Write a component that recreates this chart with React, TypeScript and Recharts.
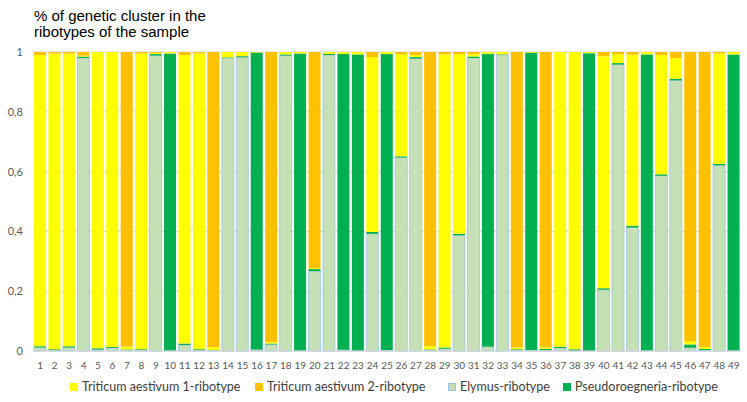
import { Bar, BarChart, CartesianGrid, XAxis, YAxis } from 'recharts'

// Sample ribotypes 1..49
const SAMPLES = Array.from({ length: 49 }, (_, i) => String(i + 1))

// Share of each genetic cluster per ribotype (bottom to top of the stack)
const ELYMUS = [
  0.012, 0.003, 0.012, 0.98, 0.005, 0.01, 0.003, 0.003, 0.988, 0.002,
  0.02, 0.003, 0.002, 0.98, 0.982, 0.005, 0.022, 0.988, 0.002, 0.267,
  0.99, 0.004, 0.002, 0.392, 0.003, 0.647, 0.978, 0.003, 0.008, 0.387,
  0.98, 0.014, 0.99, 0.003, 0.003, 0.003, 0.01, 0.002, 0.001, 0.205,
  0.958, 0.413, 0.002, 0.586, 0.905, 0.011, 0.003, 0.621, 0.002,
]
const PSEUDOROEGNERIA = [
  0.004, 0.003, 0.004, 0.005, 0.004, 0.003, 0.002, 0.003, 0.005, 0.993,
  0.005, 0.003, 0.001, 0.002, 0.004, 0.993, 0.003, 0.004, 0.993, 0.007,
  0.004, 0.99, 0.99, 0.006, 0.99, 0.004, 0.005, 0.002, 0.004, 0.005,
  0.005, 0.98, 0.002, 0.003, 0.995, 0.004, 0.004, 0.004, 0.995, 0.005,
  0.005, 0.006, 0.99, 0.005, 0.006, 0.011, 0.004, 0.005, 0.99,
]
const TRITICUM_1 = [
  0.974, 0.989, 0.979, 0.003, 0.991, 0.987, 0.01, 0.989, 0.004, 0.005,
  0.965, 0.99, 0.01, 0.018, 0.014, 0.002, 0.005, 0.008, 0.005, 0.003,
  0.006, 0.006, 0.008, 0.585, 0.007, 0.342, 0.007, 0.012, 0.98, 0.601,
  0.008, 0.006, 0.008, 0.006, 0.002, 0.005, 0.986, 0.994, 0.004, 0.776,
  0.03, 0.572, 0.008, 0.399, 0.069, 0.011, 0.006, 0.369, 0.008,
]
const TRITICUM_2 = [
  0.01, 0.005, 0.005, 0.012, 0, 0, 0.985, 0.005, 0.003, 0,
  0.01, 0.004, 0.987, 0, 0, 0, 0.97, 0, 0, 0.723,
  0, 0, 0, 0.017, 0, 0.007, 0.01, 0.983, 0.008, 0.007,
  0.007, 0, 0, 0.988, 0, 0.988, 0, 0, 0, 0.014,
  0.007, 0.009, 0, 0.01, 0.02, 0.967, 0.987, 0.005, 0,
]

const Y_TICKS = [0, 0.2, 0.4, 0.6, 0.8, 1]

const SERIES = [
  { key: 'elymus', name: 'Elymus-ribotype', color: '#C5E0B4', stroke: '#9DC3E6' },
  { key: 'pseudo', name: 'Pseudoroegneria-ribotype', color: '#00B050' },
  { key: 't1', name: 'Triticum aestivum 1-ribotype', color: '#FFFF00' },
  { key: 't2', name: 'Triticum aestivum 2-ribotype', color: '#FFC000' },
]

// legend order and x offsets
const LEGEND = [
  { key: 't1', left: 70 },
  { key: 't2', left: 255 },
  { key: 'elymus', left: 448 },
  { key: 'pseudo', left: 563 },
]

const data = SAMPLES.map((name, i) => ({
  name,
  elymus: ELYMUS[i],
  pseudo: PSEUDOROEGNERIA[i],
  t1: TRITICUM_1[i],
  t2: TRITICUM_2[i],
}))

const tickFont = { fontFamily: 'Lato, sans-serif', fill: '#595959' }

export default function App() {
  return (
    <div style={{ position: 'relative', width: 747, height: 402, background: '#fff' }}>
      <style>{'body{margin:0}'}</style>
      <div
        style={{
          position: 'absolute',
          left: 34,
          top: 8,
          fontFamily: '"Liberation Sans", Arial, sans-serif',
          fontSize: 15,
          lineHeight: '16px',
          color: '#000',
        }}
      >
        % of genetic cluster in the
        <br />
        ribotypes of the sample
      </div>
      <BarChart
        width={747}
        height={402}
        data={data}
        stackOffset="expand"
        barCategoryGap={1}
        margin={{ top: 52, right: 6, left: 0, bottom: 21 }}
      >
        <CartesianGrid vertical={false} stroke="#D9D9D9" />
        <XAxis
          dataKey="name"
          interval={0}
          tickLine={false}
          tickSize={0}
          tickMargin={11}
          height={30}
          axisLine={{ stroke: '#D9D9D9' }}
          tick={{ ...tickFont, fontSize: 10 }}
        />
        <YAxis
          width={33}
          domain={[0, 1]}
          ticks={Y_TICKS}
          axisLine={false}
          tickLine={false}
          tickSize={0}
          tickMargin={10}
          tick={{ ...tickFont, fontSize: 11 }}
          tickFormatter={(v: number) => String(v).replace('.', ',')}
        />
        {SERIES.map((s) => (
          <Bar
            key={s.key}
            dataKey={s.key}
            name={s.name}
            stackId="a"
            fill={s.color}
            stroke={s.stroke}
            strokeWidth={s.stroke ? 0.8 : 0}
            isAnimationActive={false}
          />
        ))}
      </BarChart>
      {LEGEND.map((l) => {
        const s = SERIES.find((x) => x.key === l.key)!
        return (
          <div
            key={l.key}
            style={{
              position: 'absolute',
              left: l.left,
              top: 379,
              display: 'flex',
              alignItems: 'center',
              fontFamily: 'Lato, sans-serif',
              fontSize: 12.5,
              color: '#404040',
              whiteSpace: 'nowrap',
            }}
          >
            <span
              style={{
                width: 8,
                height: 8,
                background: s.color,
                border: s.stroke ? `1px solid ${s.stroke}` : undefined,
                boxSizing: 'border-box',
                marginRight: 4,
              }}
            />
            {s.name}
          </div>
        )
      })}
    </div>
  )
}
